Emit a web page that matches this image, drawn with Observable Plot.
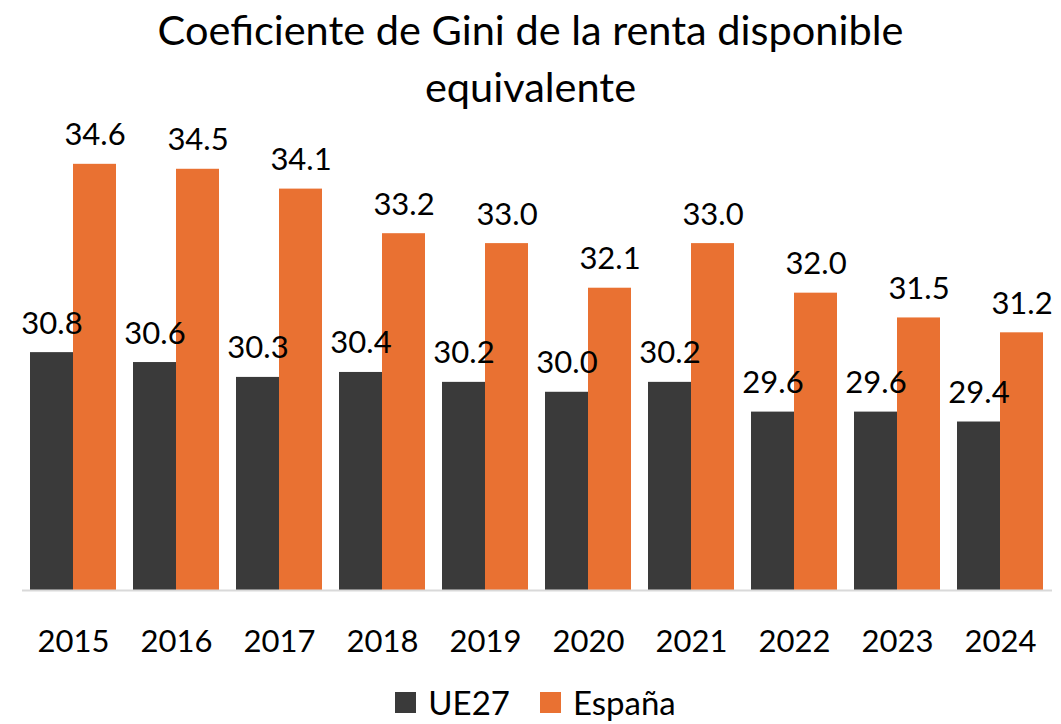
<!DOCTYPE html>
<html>
<head>
<meta charset="utf-8">
<script src="https://cdn.jsdelivr.net/npm/d3@7"></script>
<script src="https://cdn.jsdelivr.net/npm/@observablehq/plot@0.6"></script>
<style>
  html, body { margin: 0; padding: 0; background: #fff; }
  body { width: 1061px; height: 724px; overflow: hidden; font-family: Lato, "Open Sans", sans-serif; color: #000; }
  #title { height: 100px; text-align: center; font-size: 41.5px; line-height: 57px; padding-top: 1px; box-sizing: border-box; }
  #legend { display: flex; justify-content: center; align-items: center; gap: 30px; font-size: 33px; line-height: 40px; height: 64px; padding-top: 20px; box-sizing: border-box; padding-left: 10px; }
  #legend .item { display: flex; align-items: center; gap: 12px; }
  #legend .sw { width: 21px; height: 21px; display: inline-block; }
</style>
</head>
<body>
<div id="title">Coeficiente de Gini de la renta disponible<br>equivalente</div>
<div id="chart"></div>
<div id="legend"></div>
<script>
const years = ["2015","2016","2017","2018","2019","2020","2021","2022","2023","2024"];
const seriesNames = ["UE27", "España"];
const ue27 = [30.8, 30.6, 30.3, 30.4, 30.2, 30.0, 30.2, 29.6, 29.6, 29.4];
const espana = [34.6, 34.5, 34.1, 33.2, 33.0, 32.1, 33.0, 32.0, 31.5, 31.2];
const colors = ["#3A3A3A", "#E97132"];
const yMin = 26, yMax = 35;

const W = 1061, mL = 22, mR = 9, padIn = 0.165, padOut = 0.0825;
const step = (W - mL - mR) / (years.length - padIn + 2 * padOut);
const half = step * (1 - padIn) / 2;

const rowsUE = years.map((yr, i) => ({year: yr, value: ue27[i]}));
const rowsES = years.map((yr, i) => ({year: yr, value: espana[i]}));

const labelOpts = {x: "year", y: "value", text: d => d.value.toFixed(1), dy: -19, lineAnchor: "bottom", fontSize: 31, fill: "#000"};

const chart = Plot.plot({
  width: W,
  height: 560,
  marginLeft: mL,
  marginRight: mR,
  marginTop: 44,
  marginBottom: 70,
  style: {fontFamily: "Lato, 'Open Sans', sans-serif", background: "#fff"},
  x: {domain: years, paddingInner: padIn, paddingOuter: padOut, label: null},
  y: {domain: [yMin, yMax], axis: null},
  marks: [
    Plot.barY(rowsUE, {x: "year", y1: () => yMin, y2: "value", fill: colors[0], insetRight: half}),
    Plot.barY(rowsES, {x: "year", y1: () => yMin, y2: "value", fill: colors[1], insetLeft: half}),
    Plot.ruleY([yMin], {stroke: "#D9D9D9", strokeWidth: 2}),
    Plot.text(rowsUE, {...labelOpts, dx: -half / 2}),
    Plot.text(rowsES, {...labelOpts, dx: half / 2}),
    Plot.axisX({tickSize: 0, tickPadding: 39, fontSize: 31, label: null, color: "#000"})
  ]
});
document.getElementById("chart").appendChild(chart);

const legend = document.getElementById("legend");
seriesNames.forEach((s, i) => {
  const item = document.createElement("span");
  item.className = "item";
  const sw = document.createElement("span");
  sw.className = "sw";
  sw.style.background = colors[i];
  item.appendChild(sw);
  item.appendChild(document.createTextNode(s));
  legend.appendChild(item);
});
</script>
</body>
</html>
